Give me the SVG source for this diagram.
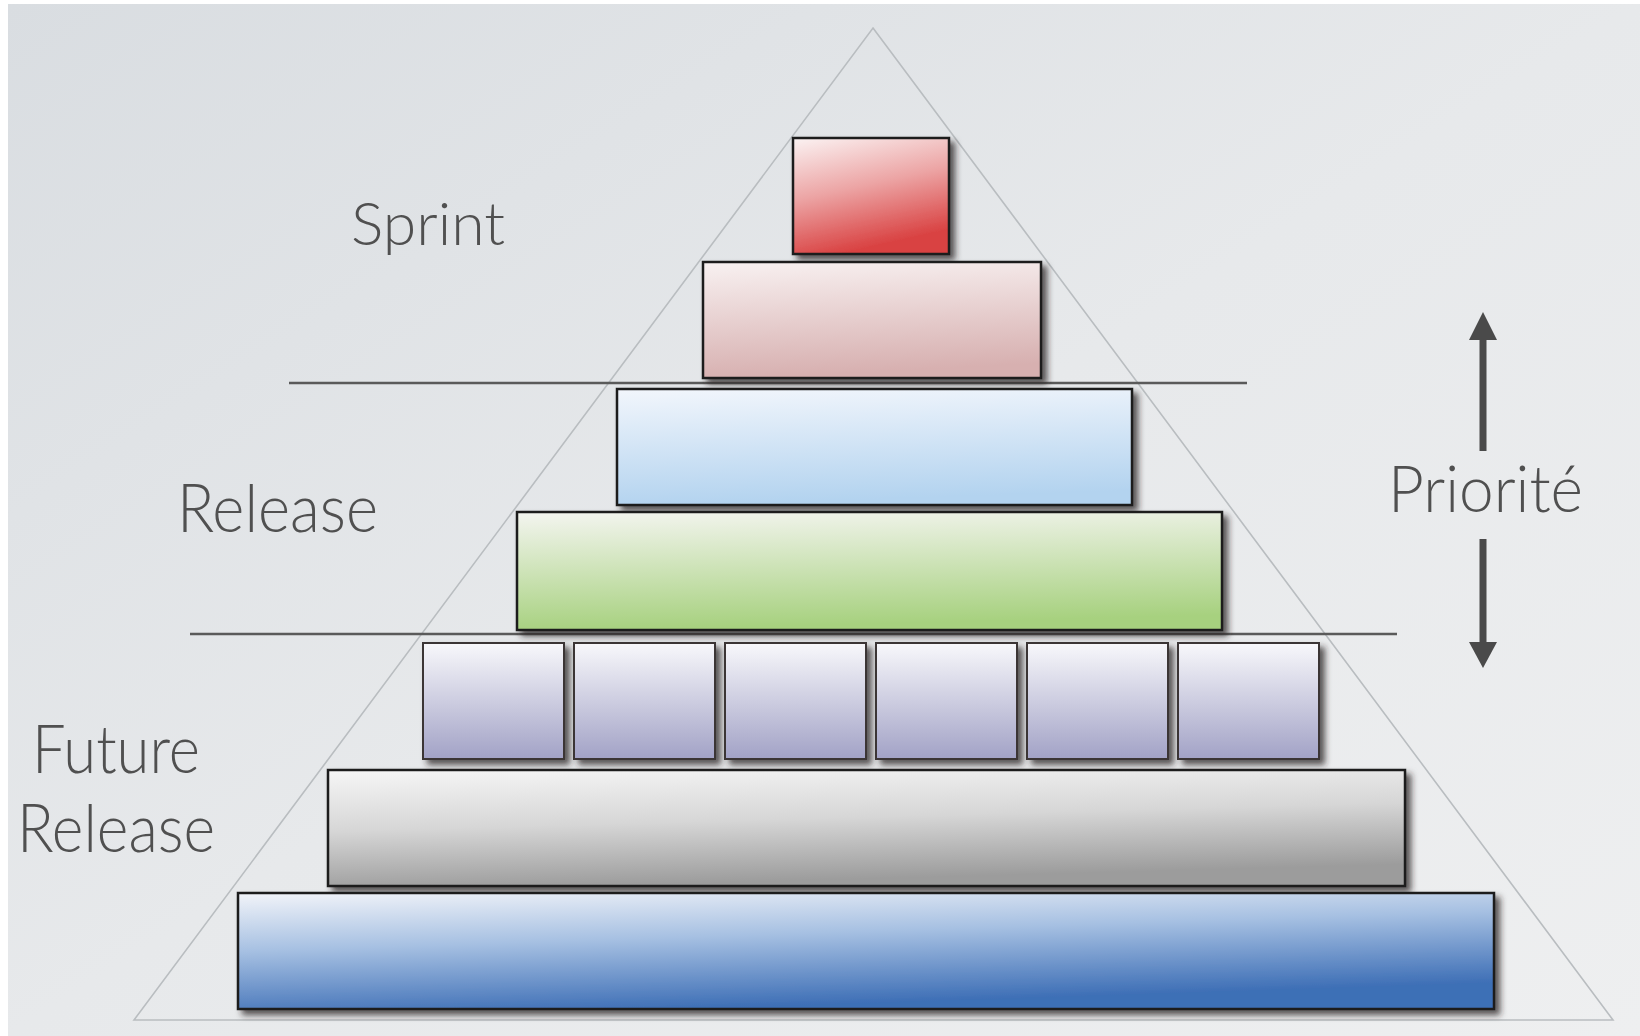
<svg xmlns="http://www.w3.org/2000/svg" width="1640" height="1036" viewBox="0 0 1640 1036">
<style>
.lbl{font-family:Lato,"Open Sans","Liberation Sans",sans-serif;font-weight:300;fill:#505050}
.box{stroke:#1e1e1e;stroke-width:2.5;filter:url(#sh)}
.sbox{stroke:#3a3636;stroke-width:2;filter:url(#sh)}
.sep{stroke:#5a5a5a;stroke-width:2.5}
.tri{fill:none;stroke:#b9bdc0;stroke-width:1.6}
</style>
<defs>
<linearGradient id="bg" x1="0" y1="0" x2="1" y2="1">
<stop offset="0" stop-color="#d9dde1"/>
<stop offset="0.5" stop-color="#e7e9eb"/>
<stop offset="1" stop-color="#eeeff0"/>
</linearGradient>
<linearGradient id="gRed" x1="0" y1="0" x2="0.3" y2="1">
<stop offset="0" stop-color="#fbf3f3"/>
<stop offset="0.5" stop-color="#eca4a4"/>
<stop offset="1" stop-color="#d94242"/>
</linearGradient>
<linearGradient id="gPink" x1="0" y1="0" x2="0.15" y2="1">
<stop offset="0" stop-color="#f8f1f1"/>
<stop offset="1" stop-color="#d7b0b0"/>
</linearGradient>
<linearGradient id="gSky" x1="0" y1="0" x2="0.15" y2="1">
<stop offset="0" stop-color="#f2f6fc"/>
<stop offset="1" stop-color="#b3d3ef"/>
</linearGradient>
<linearGradient id="gGreen" x1="0" y1="0" x2="0.15" y2="1">
<stop offset="0" stop-color="#f4f5f0"/>
<stop offset="1" stop-color="#a7d17f"/>
</linearGradient>
<linearGradient id="gLav" x1="0" y1="0" x2="0" y2="1">
<stop offset="0" stop-color="#f8f8fb"/>
<stop offset="1" stop-color="#a2a2c6"/>
</linearGradient>
<linearGradient id="gGrey" x1="0" y1="0" x2="0.25" y2="1">
<stop offset="0" stop-color="#f6f6f6"/>
<stop offset="0.5" stop-color="#d6d6d6"/>
<stop offset="1" stop-color="#9c9c9c"/>
</linearGradient>
<linearGradient id="gBlue" x1="0" y1="0" x2="0.35" y2="1">
<stop offset="0" stop-color="#f2f4f9"/>
<stop offset="0.45" stop-color="#a6c0e2"/>
<stop offset="1" stop-color="#3e6fb6"/>
</linearGradient>
<filter id="sh" x="-5%" y="-10%" width="115%" height="130%">
<feDropShadow dx="5" dy="5" stdDeviation="3" flood-color="#2a2020" flood-opacity="0.75"/>
</filter>
</defs>
<rect x="0" y="0" width="1640" height="1036" fill="#ffffff"/>
<rect x="8" y="4" width="1632" height="1032" fill="url(#bg)"/>
<g id="pyramid">
<polygon class="tri" points="873,28 1613,1020 134,1020"/>
<line class="sep" x1="289" y1="383" x2="1247" y2="383"/>
<line class="sep" x1="190" y1="634" x2="1397" y2="634"/>
</g>
<g id="sprint-item"><rect class="box" x="793" y="138" width="156" height="116" fill="url(#gRed)"/></g>
<g id="sprint-item-2"><rect class="box" x="703" y="262" width="338" height="116" fill="url(#gPink)"/></g>
<g id="release-item"><rect class="box" x="617" y="389" width="515" height="116" fill="url(#gSky)"/></g>
<g id="release-item-2"><rect class="box" x="517" y="512" width="705" height="118" fill="url(#gGreen)"/></g>
<g id="future-item-1"><rect class="sbox" x="423" y="643" width="141" height="116" fill="url(#gLav)"/></g>
<g id="future-item-2"><rect class="sbox" x="574" y="643" width="141" height="116" fill="url(#gLav)"/></g>
<g id="future-item-3"><rect class="sbox" x="725" y="643" width="141" height="116" fill="url(#gLav)"/></g>
<g id="future-item-4"><rect class="sbox" x="876" y="643" width="141" height="116" fill="url(#gLav)"/></g>
<g id="future-item-5"><rect class="sbox" x="1027" y="643" width="141" height="116" fill="url(#gLav)"/></g>
<g id="future-item-6"><rect class="sbox" x="1178" y="643" width="141" height="116" fill="url(#gLav)"/></g>
<g id="future-item-7"><rect class="box" x="328" y="770" width="1077" height="116" fill="url(#gGrey)"/></g>
<g id="future-item-8"><rect class="box" x="238" y="893" width="1256" height="116" fill="url(#gBlue)"/></g>
<g id="labels">
<text class="lbl" x="351" y="245" font-size="60" textLength="154" lengthAdjust="spacingAndGlyphs">Sprint</text>
<text class="lbl" x="177" y="532" font-size="67" textLength="201" lengthAdjust="spacingAndGlyphs">Release</text>
<text class="lbl" x="32" y="773" font-size="67" textLength="168" lengthAdjust="spacingAndGlyphs">Future</text>
<text class="lbl" x="17" y="852" font-size="67" textLength="198" lengthAdjust="spacingAndGlyphs">Release</text>
<text class="lbl" x="1388" y="512" font-size="66" textLength="195" lengthAdjust="spacingAndGlyphs">Priorité</text>
</g>
<g id="connectors" fill="#4a4a4a">
<rect x="1479.5" y="336" width="7" height="115"/>
<polygon points="1483,312 1497,340 1469,340"/>
<rect x="1479.5" y="539" width="7" height="107"/>
<polygon points="1483,668 1497,642 1469,642"/>
</g>
</svg>
